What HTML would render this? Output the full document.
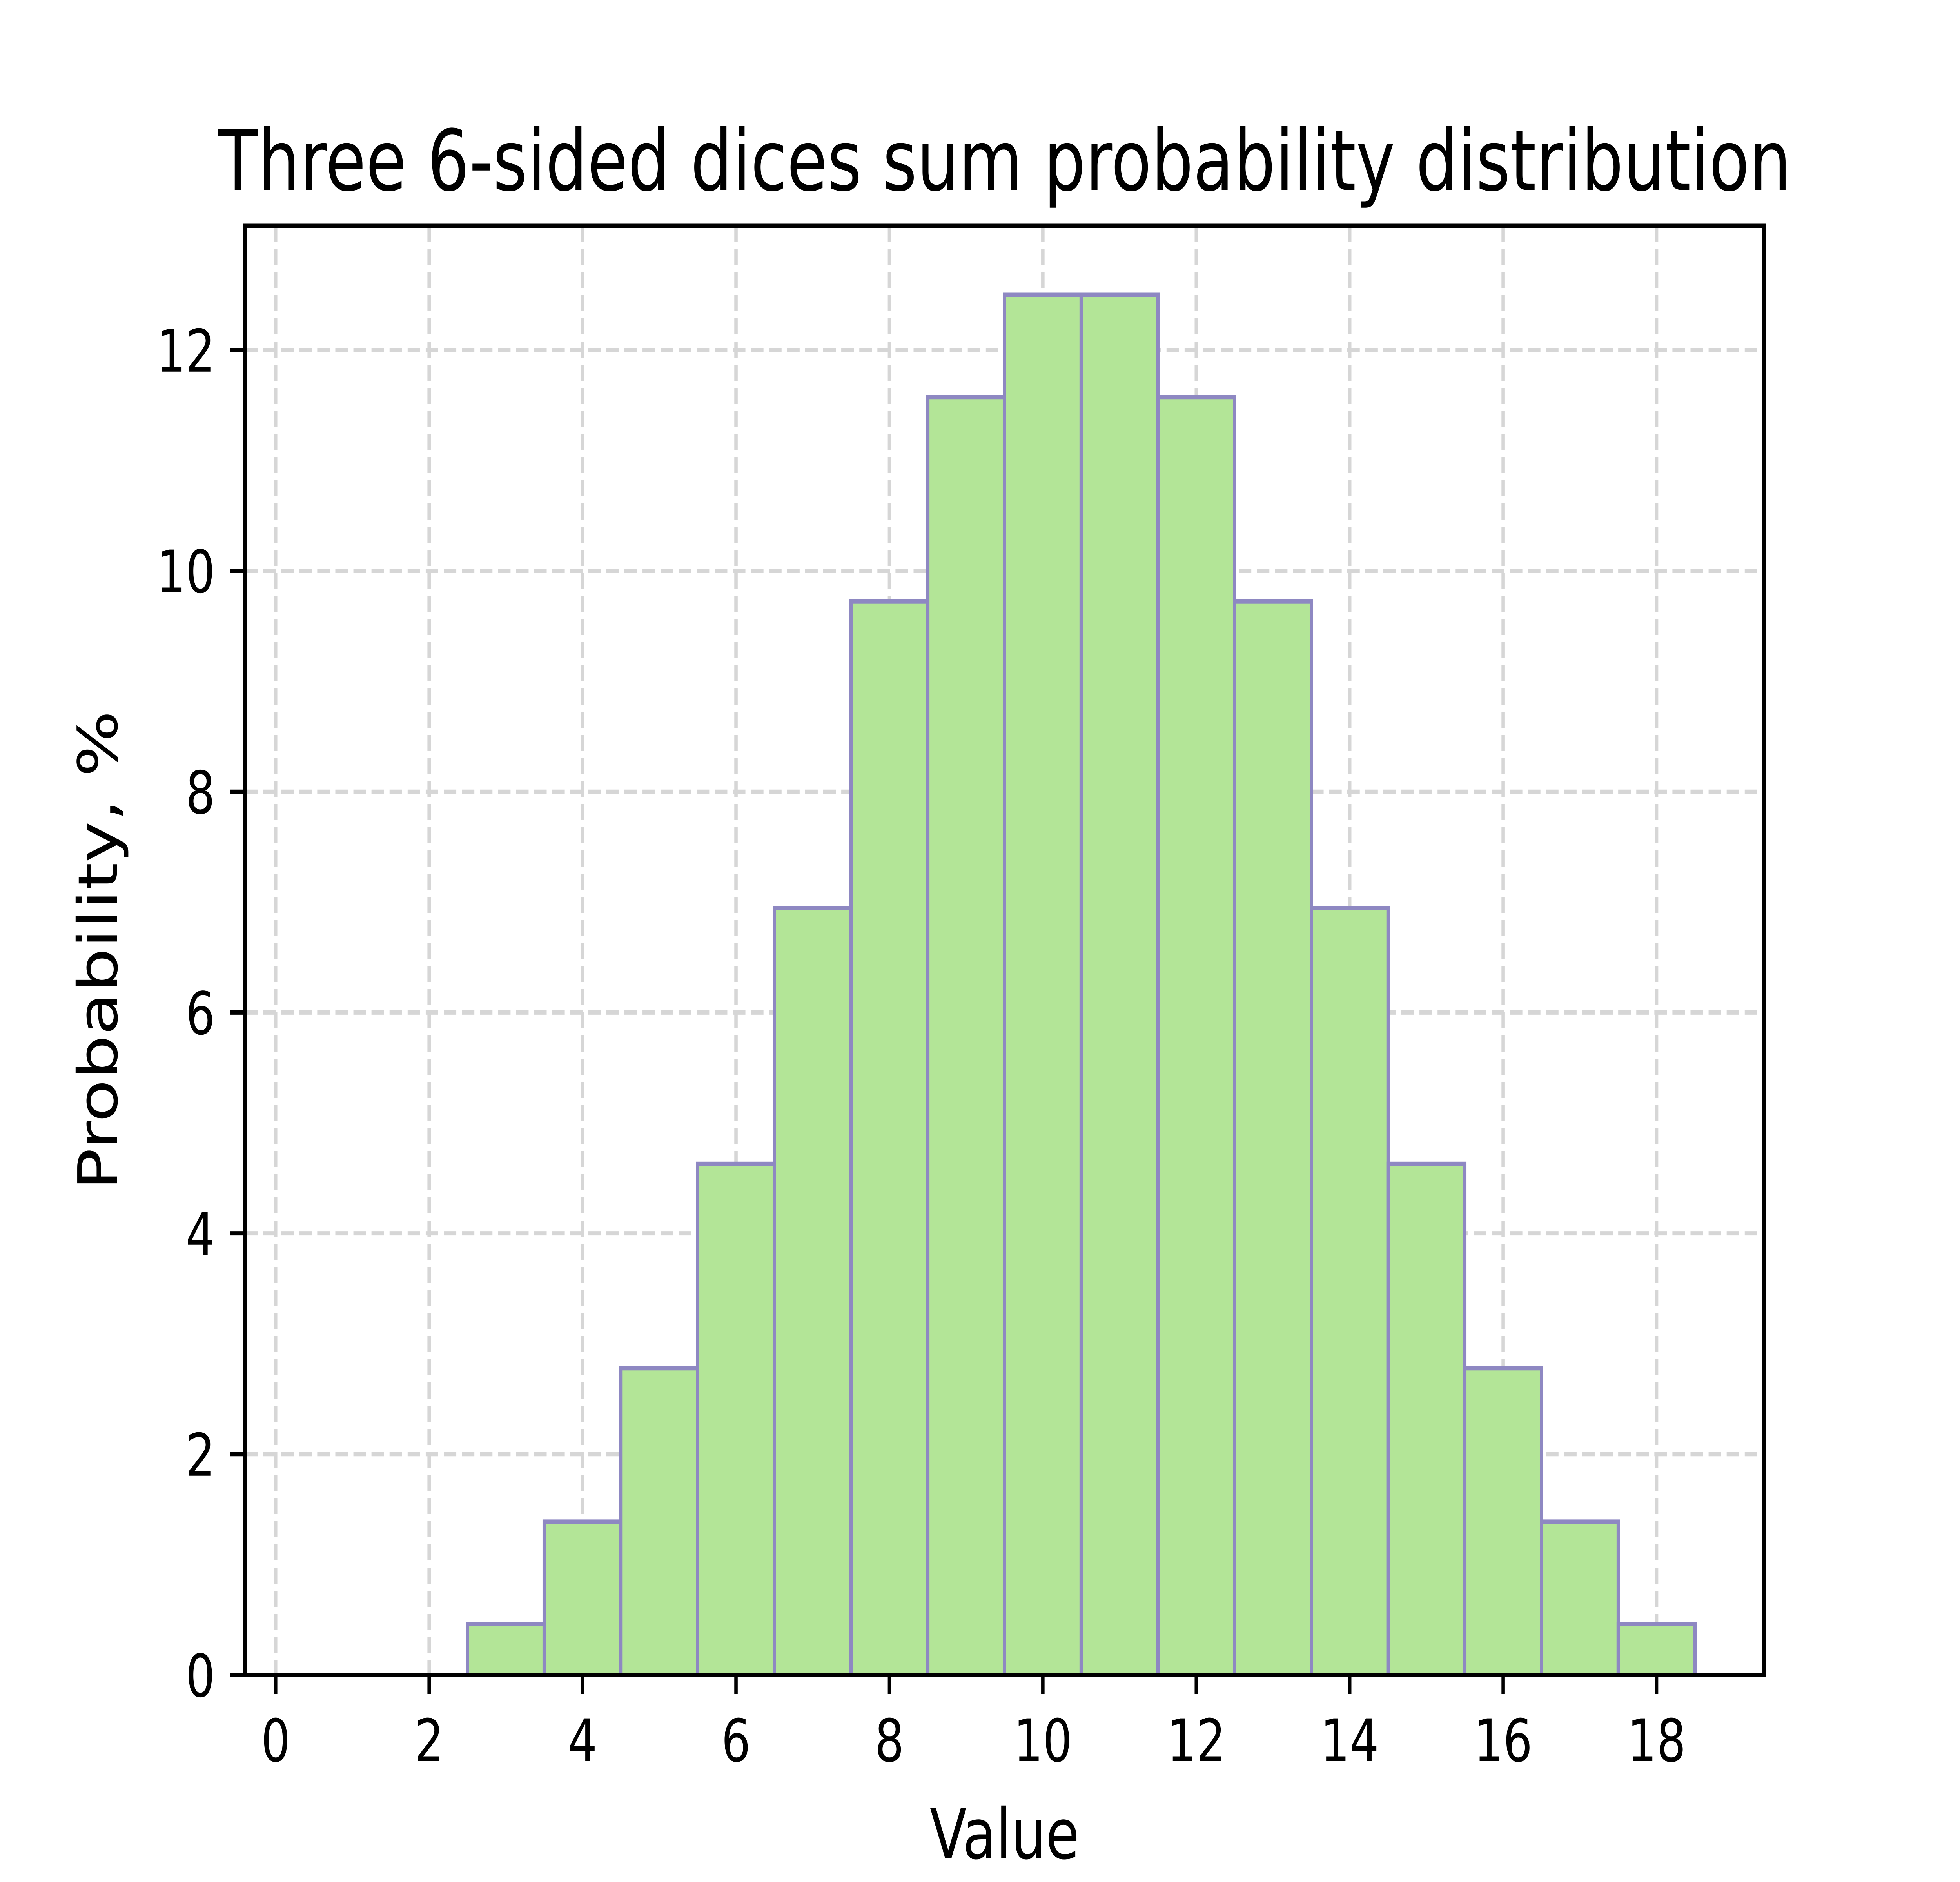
<!DOCTYPE html>
<html><head><meta charset="utf-8"><style>
html,body{margin:0;padding:0;background:#fff;width:100%;height:100%;overflow:hidden;}
svg{display:block;width:100vw;height:100vh;}
svg text{font-family:"DejaVu Sans","Liberation Sans",sans-serif;fill:#000;}
</style></head><body>
<svg id="chart" viewBox="0 0 6400 4800" preserveAspectRatio="none" xmlns="http://www.w3.org/2000/svg">
<rect x="0" y="0" width="6400" height="4800" fill="#fff"/>
<g id="grid"></g>
<g id="bars"></g>
<rect x="800" y="576" width="4960" height="3696" fill="none" stroke="#000" stroke-width="11"/>
<g id="ticks"></g>
<text x="3280" y="485" font-size="215" text-anchor="middle">Three 6-sided dices sum probability distribution</text>
<text x="3280" y="4740" font-size="178" text-anchor="middle">Value</text>
<text x="382" y="2424" font-size="178" text-anchor="middle" transform="rotate(-90 382 2424)">Probability, %</text>
</svg>
<script>
const sums = [1,2,3,4,5,6,7,8,9,10,11,12,13,14,15,16,17,18];
const counts = [0,0,1,3,6,10,15,21,25,27,27,25,21,15,10,6,3,1];
const xTicks = [0,2,4,6,8,10,12,14,16,18];
const yTicks = [0,2,4,6,8,10,12];
const total = 216;
const X0=800,X1=5760,Y0=4272,Y1=576, xmin=-0.4,xmax=19.4,ymin=0,ymax=13.125;
const sx=v=>X0+(v-xmin)/(xmax-xmin)*(X1-X0);
const sy=v=>Y0-(v-ymin)/(ymax-ymin)*(Y0-Y1);
const NS='http://www.w3.org/2000/svg';
function mk(tag,attrs,parent){const e=document.createElementNS(NS,tag);for(const k in attrs)e.setAttribute(k,attrs[k]);parent.appendChild(e);return e;}
const grid=document.getElementById('grid'),bars=document.getElementById('bars'),ticks=document.getElementById('ticks');
xTicks.forEach(t=>{
  const g=mk('line',{x1:sx(t),x2:sx(t),y1:Y1,y2:Y0,stroke:'#d6d6d6','stroke-width':11,'stroke-dasharray':'41 18'},grid);
  
  
  const tk=mk('line',{x1:sx(t),x2:sx(t),y1:Y0,y2:Y0+49,stroke:'#000','stroke-width':11},ticks);
  
  
  const tl=mk('text',{x:sx(t),y:Y0+98+122,'font-size':150,'text-anchor':'middle'},ticks);
  tl.textContent=t;
  
  
});
yTicks.forEach(t=>{
  const g=mk('line',{x1:X0,x2:X1,y1:sy(t),y2:sy(t),stroke:'#d6d6d6','stroke-width':11,'stroke-dasharray':'41 18'},grid);
  
  
  const tk=mk('line',{x1:X0-49,x2:X0,y1:sy(t),y2:sy(t),stroke:'#000','stroke-width':11},ticks);
  
  
  const tl=mk('text',{x:X0-98,y:sy(t)+55,'font-size':150,'text-anchor':'end'},ticks);
  tl.textContent=t;
  
  
});
sums.forEach((s,i)=>{
  const p=counts[i]/total*100;
  const x=sx(s-0.5),w=sx(s+0.5)-sx(s-0.5),y=sy(p),h=sy(0)-sy(p);
  const r=mk('rect',{x:x,y:y,width:w,height:h,fill:'#b3e597',stroke:'#8e88c2','stroke-width':11},bars);
  
  
});
</script>
</body></html>
